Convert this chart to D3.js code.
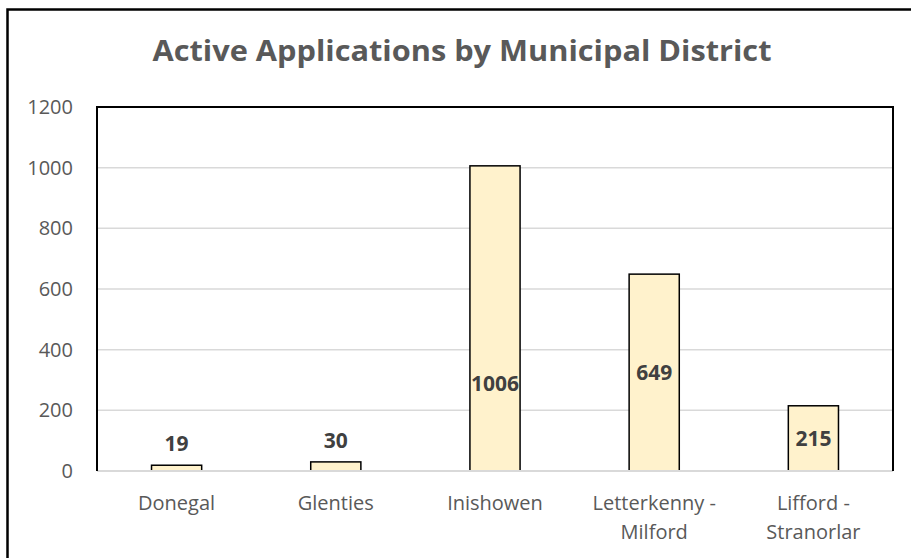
<!DOCTYPE html>
<html>
<head>
<meta charset="utf-8">
<script src="https://cdn.jsdelivr.net/npm/d3@7"></script>
<style>
  body { margin: 0; background: #fff; }
  text { font-family: "Open Sans", sans-serif; }
</style>
</head>
<body>
<div id="chart"></div>
<script>
const categories = [["Donegal"], ["Glenties"], ["Inishowen"], ["Letterkenny -", "Milford"], ["Lifford -", "Stranorlar"]];
const values = [19, 30, 1006, 649, 215];
const yTicks = [0, 200, 400, 600, 800, 1000, 1200];
const title = "Active Applications by Municipal District";

const width = 911, height = 558;
const margin = { top: 107, right: 18, bottom: 87, left: 97 };

const svg = d3.select("#chart").append("svg")
    .attr("width", width)
    .attr("height", height);

// outer chart frame (right/bottom run off the picture)
svg.append("rect")
    .attr("x", 7.5).attr("y", 9.5)
    .attr("width", width + 10).attr("height", height + 10)
    .attr("fill", "none").attr("stroke", "#000").attr("stroke-width", 2.5);

const x = d3.scaleBand()
    .domain(categories.map((d, i) => i))
    .range([margin.left, width - margin.right])
    .paddingInner(0.685)
    .paddingOuter(0.3425);

const y = d3.scaleLinear()
    .domain([0, 1200])
    .range([height - margin.bottom, margin.top]);

// gridlines
svg.append("g")
    .selectAll("line")
    .data(yTicks.slice(1, -1))
    .join("line")
    .attr("x1", margin.left).attr("x2", width - margin.right)
    .attr("y1", d => y(d)).attr("y2", d => y(d))
    .attr("stroke", "#d9d9d9").attr("stroke-width", 1.5);

// y axis labels
const yAxis = svg.append("g")
    .attr("transform", `translate(${margin.left - 24},0)`)
    .call(d3.axisLeft(y).tickValues(yTicks).tickFormat(d3.format("d")).tickSize(0).tickPadding(0));
yAxis.select(".domain").remove();
yAxis.selectAll("text")
    .attr("font-size", 20)
    .attr("fill", "#595959")
    .attr("font-family", "Open Sans, sans-serif");

// bars
svg.append("g")
    .selectAll("rect")
    .data(values)
    .join("rect")
    .attr("x", (d, i) => x(i))
    .attr("y", d => y(d))
    .attr("width", x.bandwidth())
    .attr("height", d => y(0) - y(d))
    .attr("fill", "#fff2cc")
    .attr("stroke", "#000")
    .attr("stroke-width", 1.5);

// bottom axis line
svg.append("line")
    .attr("x1", margin.left).attr("x2", width - margin.right)
    .attr("y1", y(0)).attr("y2", y(0))
    .attr("stroke", "#d9d9d9").attr("stroke-width", 2);

// plot area frame: left, top, right
svg.append("path")
    .attr("d", `M${margin.left},${y(0)}V${margin.top}H${width - margin.right}V${y(0)}`)
    .attr("fill", "none").attr("stroke", "#000").attr("stroke-width", 2);

// data labels: above small bars, inside otherwise
const labelShift = { 2: 0.285 }; // Inishowen label sits low in its bar
svg.append("g")
    .selectAll("text")
    .data(values)
    .join("text")
    .attr("x", (d, i) => x(i) + x.bandwidth() / 2)
    .attr("y", (d, i) => {
        if (d < 100) return y(d) - 14;
        if (labelShift[i] != null) return y(d * labelShift[i]);
        return y(d / 2);
    })
    .attr("dy", (d) => d < 100 ? 0 : "0.35em")
    .attr("text-anchor", "middle")
    .attr("font-size", 21)
    .attr("font-weight", "bold")
    .attr("fill", "#404040")
    .text(d => d);

// category labels
const cat = svg.append("g")
    .selectAll("text")
    .data(categories)
    .join("text")
    .attr("x", (d, i) => x(i) + x.bandwidth() / 2)
    .attr("y", y(0) + 39)
    .attr("text-anchor", "middle")
    .attr("font-size", 20)
    .attr("fill", "#595959");
cat.selectAll("tspan")
    .data(d => d)
    .join("tspan")
    .attr("x", function () { return this.parentNode.getAttribute("x"); })
    .attr("dy", (d, j) => j === 0 ? 0 : 29)
    .text(d => d);

// title
svg.append("text")
    .attr("x", 462)
    .attr("y", 61)
    .attr("text-anchor", "middle")
    .attr("font-weight", "bold")
    .attr("font-size", 28)
    .attr("textLength", 619)
    .attr("lengthAdjust", "spacingAndGlyphs")
    .attr("fill", "#595959")
    .text(title);
</script>
</body>
</html>
